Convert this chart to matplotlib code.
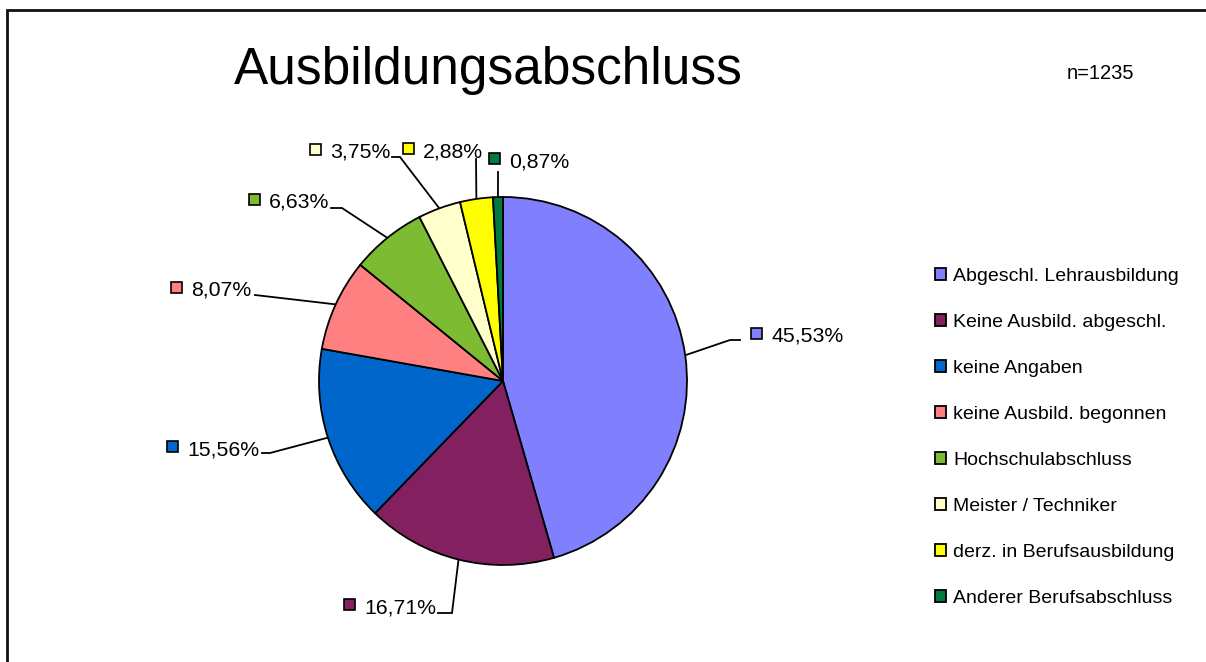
import matplotlib
matplotlib.use("Agg")
import matplotlib.pyplot as plt
from matplotlib.patches import Rectangle
import numpy as np

# ---------------- data ----------------
categories = [
    "Abgeschl. Lehrausbildung",
    "Keine Ausbild. abgeschl.",
    "keine Angaben",
    "keine Ausbild. begonnen",
    "Hochschulabschluss",
    "Meister / Techniker",
    "derz. in Berufsausbildung",
    "Anderer Berufsabschluss",
]
shares = [45.53, 16.71, 15.56, 8.07, 6.63, 3.75, 2.88, 0.87]
colors = ["#8080FF", "#822060", "#0066CC", "#FF8080",
          "#7CBB32", "#FFFFCC", "#FFFF00", "#007A3D"]
title = "Ausbildungsabschluss"
n_text = "n=1235"

# ---------------- layout (pixels, origin top-left) ----------------
W, H = 1206, 662
CX, CY, R = 503, 381, 184
# per label: text left x, text baseline y, elbow point, end point of leader
label_layout = [
    (771, 342, (730, 340), (740, 340)),
    (364, 613, (452, 613), (438, 613)),
    (187, 455, (270, 453), (262, 453)),
    (191, 296, (255, 295), (255, 295)),
    (269, 208, (342, 208), (331, 208)),
    (330, 158, (400, 157), (392, 157)),
    (423, 157, (476, 159), (476, 159)),
    (509, 167, (498, 172), (498, 172)),
]

plt.rcParams["font.family"] = ["Liberation Sans", "DejaVu Sans"]

fig = plt.figure(figsize=(W / 100, H / 100), dpi=100)
fig.patch.set_facecolor("white")

# overlay axes in pixel coordinates
ov = fig.add_axes([0, 0, 1, 1])
ov.set_xlim(0, W)
ov.set_ylim(H, 0)
ov.axis("off")

# frame (top and left)
ov.plot([7, 7, W], [H, 10, 10], color="#111111", lw=2.0, solid_joinstyle="miter")

# pie axes
pax = fig.add_axes([(CX - R) / W, (H - CY - R) / H, 2 * R / W, 2 * R / H])
wedges, _ = pax.pie(shares, colors=colors, startangle=90, counterclock=False,
                    wedgeprops=dict(edgecolor="black", linewidth=1.3))
pax.set_xlim(-1, 1)
pax.set_ylim(-1, 1)
pax.set_aspect("auto")
pax.axis("off")

# labels with leader lines
total = sum(shares)
cum = np.cumsum([0] + shares)
fs_lab = 15.3
for i, (val, col) in enumerate(zip(shares, colors)):
    mid = (cum[i] + val / 2) / total
    ang = np.deg2rad(90 - 360 * mid)
    ex, ey = CX + R * np.cos(ang), CY - R * np.sin(ang)
    tx, ty, elbow, end = label_layout[i]
    ov.plot([ex, elbow[0], end[0]], [ey, elbow[1], end[1]],
            color="black", lw=1.3, solid_joinstyle="miter")
    ov.add_patch(Rectangle((tx - 20, ty - 14), 11, 11, facecolor=col,
                           edgecolor="black", lw=1.2))
    ov.text(tx, ty, f"{val:.2f}%".replace(".", ","), fontsize=fs_lab,
            ha="left", va="baseline", color="black")

# title and n
ov.text(488, 84, title, fontsize=37, ha="center", va="baseline")
ov.text(1067, 79, n_text, fontsize=14.5, ha="left", va="baseline")

# legend
fig.legend(wedges, categories, loc="upper left",
           bbox_to_anchor=(935 / W, 1 - 268 / H), frameon=False,
           fontsize=14, handlelength=0.55, handleheight=0.55,
           handletextpad=0.4, labelspacing=1.49, borderpad=0,
           borderaxespad=0)

fig.savefig("out.png", dpi=100, facecolor="white")
